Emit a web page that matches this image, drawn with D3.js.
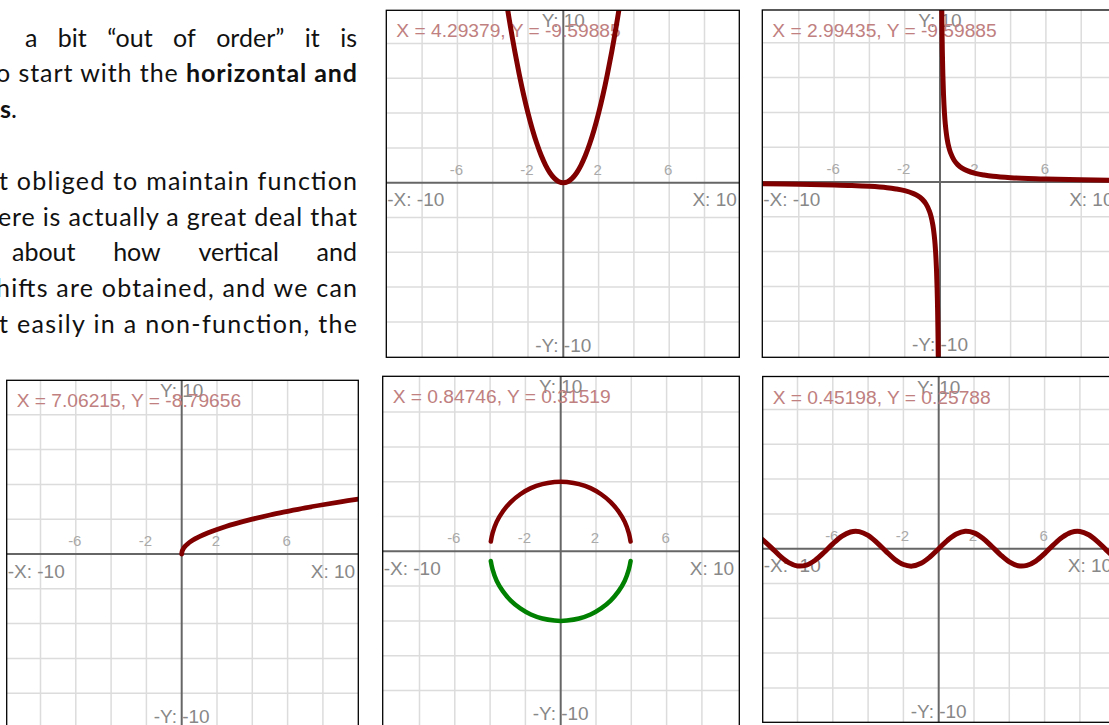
<!DOCTYPE html>
<html>
<head>
<meta charset="utf-8">
<script src="https://cdn.jsdelivr.net/npm/d3@7"></script>
<style>
  body { margin: 0; background: #fff; overflow: hidden; }
  svg { display: block; }
</style>
</head>
<body>
<svg id="page" width="1109" height="725"></svg>
<script>
// ---- values plotted in the five graph windows ----
const gridValues = [-8, -6, -4, -2, 2, 4, 6, 8];
const tickLabels = [-6, -2, 2, 6];

// y = x^2
const parabolaX = [-3.2, -3, -2.75, -2.5, -2.25, -2, -1.75, -1.5, -1.25, -1, -0.75, -0.5, -0.25, 0,
                   0.25, 0.5, 0.75, 1, 1.25, 1.5, 1.75, 2, 2.25, 2.5, 2.75, 3, 3.2];
const parabolaY = [10.24, 9, 7.56, 6.25, 5.06, 4, 3.06, 2.25, 1.56, 1, 0.56, 0.25, 0.06, 0,
                   0.06, 0.25, 0.56, 1, 1.56, 2.25, 3.06, 4, 5.06, 6.25, 7.56, 9, 10.24];

// y = 1/x, negative branch
const recipLeftX = [-10, -8, -6, -5, -4, -3, -2.5, -2, -1.5, -1.25, -1, -0.8, -0.6, -0.5, -0.4, -0.3, -0.25, -0.2, -0.15, -0.12, -0.1];
const recipLeftY = [-0.1, -0.13, -0.17, -0.2, -0.25, -0.33, -0.4, -0.5, -0.67, -0.8, -1, -1.25, -1.67, -2, -2.5, -3.33, -4, -5, -6.67, -8.33, -10];
// y = 1/x, positive branch
const recipRightX = [0.1, 0.12, 0.15, 0.2, 0.25, 0.3, 0.4, 0.5, 0.6, 0.8, 1, 1.25, 1.5, 2, 2.5, 3, 4, 5, 6, 8, 10];
const recipRightY = [10, 8.33, 6.67, 5, 4, 3.33, 2.5, 2, 1.67, 1.25, 1, 0.8, 0.67, 0.5, 0.4, 0.33, 0.25, 0.2, 0.17, 0.13, 0.1];

// y = sqrt(x)
const rootX = [0, 0.02, 0.05, 0.1, 0.2, 0.35, 0.5, 0.75, 1, 1.5, 2, 2.5, 3, 4, 5, 6, 7, 8, 9, 10];
const rootY = [0, 0.14, 0.22, 0.32, 0.45, 0.59, 0.71, 0.87, 1, 1.22, 1.41, 1.58, 1.73, 2, 2.24, 2.45, 2.65, 2.83, 3, 3.16];

// circle of radius 4: upper and lower halves
const upperArcX = [3.96, 3.86, 3.63, 3.28, 2.83, 2.29, 1.69, 1.04, 0.35, 0, -0.35, -1.04, -1.69, -2.29, -2.83, -3.28, -3.63, -3.86, -3.96];
const upperArcY = [0.56, 1.04, 1.69, 2.29, 2.83, 3.28, 3.63, 3.86, 3.98, 4, 3.98, 3.86, 3.63, 3.28, 2.83, 2.29, 1.69, 1.04, 0.56];
const lowerArcX = [3.96, 3.86, 3.63, 3.28, 2.83, 2.29, 1.69, 1.04, 0.35, 0, -0.35, -1.04, -1.69, -2.29, -2.83, -3.28, -3.63, -3.86, -3.96];
const lowerArcY = [-0.56, -1.04, -1.69, -2.29, -2.83, -3.28, -3.63, -3.86, -3.98, -4, -3.98, -3.86, -3.63, -3.28, -2.83, -2.29, -1.69, -1.04, -0.56];

// y = sin(x)
const waveX = [-10, -9.5, -9, -8.5, -8, -7.5, -7, -6.5, -6, -5.5, -5, -4.5, -4, -3.5, -3, -2.5, -2, -1.5, -1, -0.5, 0,
               0.5, 1, 1.5, 2, 2.5, 3, 3.5, 4, 4.5, 5, 5.5, 6, 6.5, 7, 7.5, 8, 8.5, 9, 9.5, 10];
const waveY = [0.54, 0.08, -0.41, -0.8, -0.99, -0.94, -0.66, -0.22, 0.28, 0.71, 0.96, 0.98, 0.76, 0.35, -0.14, -0.6, -0.91, -1, -0.84, -0.48, 0,
               0.48, 0.84, 1, 0.91, 0.6, 0.14, -0.35, -0.76, -0.98, -0.96, -0.71, -0.28, 0.22, 0.66, 0.94, 0.99, 0.8, 0.41, -0.08, -0.54];

// cursor read-outs shown in each window
const readouts = [
  "X = 4.29379, Y = -9.59885",
  "X = 2.99435, Y = -9.59885",
  "X = 7.06215, Y = -8.79656",
  "X = 0.84746, Y = 0.31519",
  "X = 0.45198, Y = 0.25788"
];

const zip = (xs, ys) => xs.map((v, i) => [v, ys[i]]);

const MAROON = "#800000";
const GREEN = "#008000";

// window layout: frame rectangle and origin position on the page
const UX = 17.65, UY = 17.4;
const panels = [
  { frame: [386.3, 10.3, 739.3, 357.3], cx: 563.3, cy: 182.7, readout: readouts[0],
    curves: [{ pts: zip(parabolaX, parabolaY), color: MAROON, w: 5 }] },
  { frame: [762.3, 10, 1120, 357.3], cx: 940, cy: 182, readout: readouts[1],
    curves: [{ pts: zip(recipLeftX, recipLeftY), color: MAROON, w: 5 },
             { pts: zip(recipRightX, recipRightY), color: MAROON, w: 5 }] },
  { frame: [6.7, 380.3, 358.3, 740], cx: 181.7, cy: 554, readout: readouts[2],
    curves: [{ pts: zip(rootX, rootY), color: MAROON, w: 4.8 }] },
  { frame: [382.7, 376.3, 739.3, 740], cx: 560.7, cy: 551.3, readout: readouts[3],
    curves: [{ pts: zip(upperArcX, upperArcY), color: MAROON, w: 4.5 },
             { pts: zip(lowerArcX, lowerArcY), color: GREEN, w: 4.5 }] },
  { frame: [762.7, 376.5, 1120, 722.3], cx: 938.7, cy: 548.7, readout: readouts[4],
    curves: [{ pts: zip(waveX, waveY), color: MAROON, w: 5 }] }
];

const svg = d3.select("#page");
svg.append("rect").attr("width", 1109).attr("height", 725).attr("fill", "#fff");

// ---- body text beside the graphs ----
const TEXT_RIGHT = 357;
const bodyFont = "Lato, 'Open Sans', sans-serif";
const paragraph = [
  { justify: true, x0: 25, y: 47, words: ["a", "bit", "\u201Cout", "of", "order\u201D", "it", "is"] },
  { x0: -4, y: 82, parts: [{ t: "o start with the " }, { t: "horizontal and", bold: true }] },
  { x0: 0, y: 118, natural: true, parts: [{ t: "s", bold: true }, { t: "." }] },
  { x0: -1, y: 190, parts: [{ t: "t obliged to maintain function" }] },
  { x0: -2, y: 226, parts: [{ t: "ere is actually a great deal that" }] },
  { justify: true, x0: 12, y: 261, words: ["about", "how", "vertical", "and"] },
  { x0: -4, y: 297, parts: [{ t: "hifts are obtained, and we can" }] },
  { x0: -1, y: 333, parts: [{ t: "t easily in a non-function, the" }] }
];

const textG = svg.append("g")
  .attr("font-family", bodyFont)
  .attr("font-size", 25)
  .attr("fill", "#111");

paragraph.forEach(line => {
  if (line.justify) {
    const nodes = line.words.map(w => textG.append("text").attr("y", line.y).text(w));
    const widths = nodes.map(n => n.node().getComputedTextLength());
    const total = d3.sum(widths);
    const gap = (TEXT_RIGHT - line.x0 - total) / (line.words.length - 1);
    let cur = line.x0;
    nodes.forEach((n, i) => { n.attr("x", cur); cur += widths[i] + gap; });
  } else {
    const t = textG.append("text").attr("x", line.x0).attr("y", line.y);
    line.parts.forEach(p => t.append("tspan").attr("font-weight", p.bold ? 700 : 400).text(p.t));
    if (!line.natural) {
      t.attr("textLength", TEXT_RIGHT - line.x0).attr("lengthAdjust", "spacing");
    }
  }
});

// ---- graph windows ----
const labelFont = "'Liberation Sans', Arial, sans-serif";

panels.forEach((p, idx) => {
  const [fx0, fy0, fx1, fy1] = p.frame;
  const x = d3.scaleLinear().domain([-10, 10]).range([p.cx - 10 * UX, p.cx + 10 * UX]);
  const y = d3.scaleLinear().domain([-10, 10]).range([p.cy + 10 * UY, p.cy - 10 * UY]);

  const clipId = "clip" + idx;
  svg.append("clipPath").attr("id", clipId)
    .append("rect").attr("x", fx0).attr("y", fy0).attr("width", fx1 - fx0).attr("height", fy1 - fy0);

  const g = svg.append("g").attr("clip-path", `url(#${clipId})`);
  g.append("rect").attr("x", fx0).attr("y", fy0).attr("width", fx1 - fx0).attr("height", fy1 - fy0).attr("fill", "#fff");

  // grid
  g.selectAll(".vg").data(gridValues).join("line")
    .attr("x1", d => x(d)).attr("x2", d => x(d)).attr("y1", fy0).attr("y2", fy1)
    .attr("stroke", "#dcdcdc").attr("stroke-width", 1.5);
  g.selectAll(".hg").data(gridValues).join("line")
    .attr("x1", fx0).attr("x2", fx1).attr("y1", d => y(d)).attr("y2", d => y(d))
    .attr("stroke", "#dcdcdc").attr("stroke-width", 1.5);

  // axes
  g.append("line").attr("x1", fx0).attr("x2", fx1).attr("y1", y(0)).attr("y2", y(0))
    .attr("stroke", "#666").attr("stroke-width", 2);
  g.append("line").attr("x1", x(0)).attr("x2", x(0)).attr("y1", fy0).attr("y2", fy1)
    .attr("stroke", "#666").attr("stroke-width", 2);

  // tick numbers above the x axis
  g.selectAll(".tk").data(tickLabels).join("text")
    .attr("x", d => x(d) - 1).attr("y", y(0) - 8)
    .attr("text-anchor", "middle")
    .attr("font-family", labelFont).attr("font-size", 15).attr("fill", "#aaa")
    .text(d => d);

  // axis range labels
  const lab = g.append("g").attr("font-family", labelFont).attr("font-size", 19).attr("fill", "#888");
  lab.append("text").attr("x", fx0 + 1).attr("y", y(0) + 23.5).text("-X: -10");
  lab.append("text").attr("x", x(10) - 3).attr("y", y(0) + 23.5).attr("text-anchor", "end").text("X: 10");
  lab.append("text").attr("x", x(0)).attr("y", fy0 + 17).attr("text-anchor", "middle").text("Y: 10");
  lab.append("text").attr("x", x(0)).attr("y", y(-10) - 5).attr("text-anchor", "middle").text("-Y: -10");

  // cursor read-out
  g.append("text").attr("x", fx0 + 10).attr("y", fy0 + 27)
    .attr("font-family", labelFont).attr("font-size", 19.2).attr("fill", "#c08080")
    .text(p.readout);

  // curves
  const line = d3.line().x(d => x(d[0])).y(d => y(d[1])).curve(d3.curveCatmullRom.alpha(0.5));
  p.curves.forEach(c => {
    g.append("path").attr("d", line(c.pts))
      .attr("fill", "none").attr("stroke", c.color).attr("stroke-width", c.w)
      .attr("stroke-linecap", "round").attr("stroke-linejoin", "round");
  });

  // window frame
  svg.append("rect").attr("x", fx0).attr("y", fy0).attr("width", fx1 - fx0).attr("height", fy1 - fy0)
    .attr("fill", "none").attr("stroke", "#000").attr("stroke-width", 1.3);
});
</script>
</body>
</html>
